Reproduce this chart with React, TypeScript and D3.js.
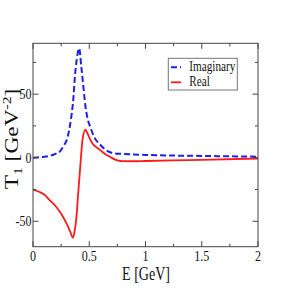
import React, { useRef, useEffect } from 'react';
import * as d3 from 'd3';

// ─── Data ────────────────────────────────────────────────────────────────────
const imagE = [0, 0.1, 0.15, 0.2, 0.24, 0.27, 0.3, 0.32, 0.34, 0.36, 0.37, 0.39, 0.41, 0.43, 0.45, 0.46, 0.49, 0.51, 0.54, 0.6, 0.64, 0.68, 0.74, 0.8, 1.0, 1.5, 2.0];
const imagT = [0, 0.8, 1.5, 3, 5, 9, 14, 21, 32, 48, 61, 78, 86, 71, 54, 45, 29, 24, 17, 10, 6.5, 4.5, 3.2, 3, 2.2, 1.4, 0.8];

const realE = [0, 0.06, 0.1, 0.15, 0.2, 0.24, 0.27, 0.3, 0.33, 0.355, 0.37, 0.387, 0.4, 0.42, 0.44, 0.465, 0.48, 0.5, 0.53, 0.56, 0.6, 0.64, 0.68, 0.73, 0.79, 0.9, 1.0, 1.5, 2.0];
const realT = [-25, -27, -29, -33.5, -38, -42.7, -47, -52, -58, -63, -58, -46, -30, -7, 14, 22, 20, 16, 11, 8.5, 5.8, 3, 0.9, -1.5, -2.7, -2.8, -2.6, -1.7, -0.6];

const xTicks = [0, 0.5, 1, 1.5, 2];
const xTickLabels = ['0', '0.5', '1', '1.5', '2'];
const yTicks = [-50, 0, 50];
const yTickLabels = ['-50', '0', '50'];
const legendNames = ['Imaginary', 'Real'];

const W = 291;
const H = 291;
const SERIF = '"Liberation Serif", "DejaVu Serif", serif';
const SX = 0.8; // figure is horizontally squashed

const Chart: React.FC = () => {
    const ref = useRef<SVGSVGElement | null>(null);

    useEffect(() => {
        if (!ref.current) return;
        const svg = d3.select(ref.current);
        svg.selectAll('*').remove();

        // ─── geometry ────────────────────────────────────────────────────────
        const left = 33, right = 258, top = 43.3, bottom = 246.7;
        const x = d3.scaleLinear().domain([0, 2]).range([left, right]);
        const y = d3.scaleLinear().domain([-70, 90]).range([bottom, top]);

        svg.append('rect').attr('width', W).attr('height', H).attr('fill', '#fff');

        // ─── curves ──────────────────────────────────────────────────────────
        const line = d3
            .line<[number, number]>()
            .x(d => x(d[0]))
            .y(d => y(d[1]))
            .curve(d3.curveMonotoneX);

        const clip = svg.append('clipPath').attr('id', 'plotclip');
        clip.append('rect').attr('x', left).attr('y', top).attr('width', right - left).attr('height', bottom - top);
        const plot = svg.append('g').attr('clip-path', 'url(#plotclip)');

        plot.append('path')
            .attr('d', line(realE.map((e, i) => [e, realT[i]] as [number, number])) as string)
            .attr('fill', 'none')
            .attr('stroke', '#ff1a1a')
            .attr('stroke-width', 1.8);

        plot.append('path')
            .attr('d', line(imagE.map((e, i) => [e, imagT[i]] as [number, number])) as string)
            .attr('fill', 'none')
            .attr('stroke', '#1f1fe6')
            .attr('stroke-width', 2)
            .attr('stroke-dasharray', '6,3');

        // ─── frame & ticks (inside, all four sides) ──────────────────────────
        const axisColor = '#444';
        svg.append('rect')
            .attr('x', left).attr('y', top)
            .attr('width', right - left).attr('height', bottom - top)
            .attr('fill', 'none').attr('stroke', axisColor).attr('stroke-width', 1);

        const xMinor = d3.range(0.25, 2, 0.5);
        const yMinor = [-25, 25, 75];
        const tk = svg.append('g').attr('stroke', axisColor).attr('stroke-width', 1);
        const addX = (vals: number[], len: number) => vals.forEach(v => {
            tk.append('line').attr('x1', x(v)).attr('x2', x(v)).attr('y1', bottom).attr('y2', bottom - len);
            tk.append('line').attr('x1', x(v)).attr('x2', x(v)).attr('y1', top).attr('y2', top + len);
        });
        const addY = (vals: number[], len: number) => vals.forEach(v => {
            tk.append('line').attr('y1', y(v)).attr('y2', y(v)).attr('x1', left).attr('x2', left + len);
            tk.append('line').attr('y1', y(v)).attr('y2', y(v)).attr('x1', right).attr('x2', right - len);
        });
        addX(xTicks, 5.5);
        addX(xMinor, 3);
        addY(yTicks, 5.5);
        addY(yMinor, 3);

        // ─── tick labels ─────────────────────────────────────────────────────
        xTicks.forEach((v, i) => {
            svg.append('text')
                .attr('transform', `translate(${x(v)},${261}) scale(${SX},1)`)
                .attr('text-anchor', 'middle')
                .style('font-family', SERIF).style('font-size', '15px').style('fill', '#111')
                .text(xTickLabels[i]);
        });
        yTicks.forEach((v, i) => {
            svg.append('text')
                .attr('transform', `translate(${left - 1.5},${y(v) + 5}) scale(${SX},1)`)
                .attr('text-anchor', 'end')
                .style('font-family', SERIF).style('font-size', '15px').style('fill', '#111')
                .text(yTickLabels[i]);
        });

        // ─── axis titles ─────────────────────────────────────────────────────
        svg.append('text')
            .attr('transform', `translate(146,280) scale(0.78,1)`)
            .attr('text-anchor', 'middle')
            .style('font-family', SERIF).style('font-size', '18px').style('fill', '#111')
            .text('E [GeV]');

        const yl = svg.append('text')
            .attr('transform', `translate(18,139) rotate(-90) scale(1.3,1)`)
            .attr('text-anchor', 'middle')
            .style('font-family', SERIF).style('font-size', '18px').style('fill', '#111');
        yl.append('tspan').text('T');
        yl.append('tspan').attr('dy', 4).style('font-size', '12px').text('1');
        yl.append('tspan').attr('dy', -4).text(' [GeV');
        yl.append('tspan').attr('dy', -7).style('font-size', '12px').text('-2');
        yl.append('tspan').attr('dy', 7).text(']');

        // ─── legend ──────────────────────────────────────────────────────────
        const lg = svg.append('g');
        lg.append('rect')
            .attr('x', 168.3).attr('y', 58.3).attr('width', 69).attr('height', 31.7)
            .attr('fill', '#fff').attr('stroke', '#777').attr('stroke-width', 1);
        const legendStyles = [
            { color: '#1f1fe6', dash: '6,3', w: 2 },
            { color: '#ff1a1a', dash: null, w: 1.8 },
        ];
        legendNames.forEach((name, i) => {
            const ly = 67.3 + i * 15;
            const s = legendStyles[i];
            lg.append('line')
                .attr('x1', 171).attr('x2', 181).attr('y1', ly).attr('y2', ly)
                .attr('stroke', s.color).attr('stroke-width', s.w)
                .attr('stroke-dasharray', s.dash as any);
            lg.append('text')
                .attr('transform', `translate(189.3,${ly + 3.6}) scale(${SX},1)`)
                .style('font-family', SERIF).style('font-size', '14px').style('fill', '#111')
                .text(name);
        });
    }, []);

    return <svg ref={ref} width={W} height={H} style={{ position: 'absolute', left: 0, top: 0 }} />;
};

export default function App() {
    return <Chart />;
}
